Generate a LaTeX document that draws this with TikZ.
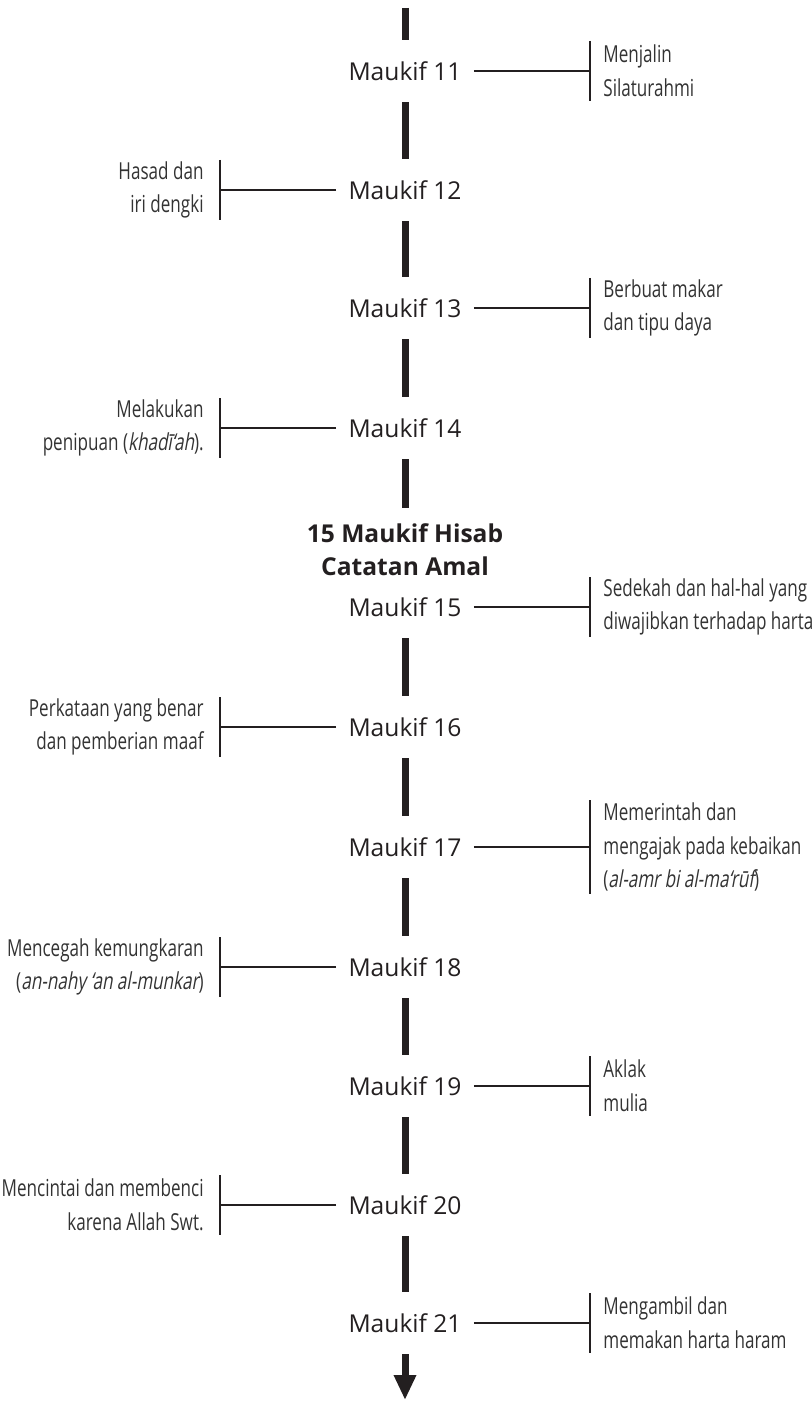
\documentclass[tikz,border=0pt]{standalone}
\usepackage{fontspec}
\setmainfont{Open Sans}
\newfontfamily\notefont{Open Sans}[FakeStretch=0.73]
\newfontfamily\noteitfont{Open Sans}[FakeStretch=0.73,FakeSlant=0.18]
\usetikzlibrary{arrows.meta}
\definecolor{ink}{HTML}{231F20}
\definecolor{notegray}{HTML}{333333}
\newcommand{\ist}[1]{{\noteitfont #1}}
\begin{document}
\begin{tikzpicture}[x=0.5pt,y=-0.5pt,line cap=butt,
	maukif/.style={font=\fontsize{12.3}{15}\selectfont, text=ink, inner xsep=6pt, inner ysep=0pt, minimum height=31pt},
	judul/.style={font=\fontsize{12.3}{16.5}\selectfont\bfseries, text=ink, align=center, inner ysep=8pt},
	catatan/.style={font=\notefont\fontsize{11.7}{16.8}\selectfont, text=notegray, inner ysep=0pt},
	batang/.style={draw=ink, line width=3.5pt},
	garis/.style={draw=ink, line width=1.1pt},
	sekat/.style={draw=ink, line width=1.3pt}]
	\useasboundingbox (0,0) rectangle (811,1401);
	% the stations on the main line
	\foreach \n/\y in {11/71,12/190,13/308,14/428,15/607,16/727,17/847,18/967,19/1086,20/1205,21/1323}
		\node[maukif] (m\n) at (405,\y) {Maukif \n};
	\node[judul] (judul) at (405,550) {15 Maukif Hisab\\Catatan Amal};
	\coordinate (atas) at (405,8);
	\coordinate (bawah) at (405,1400);
	% main line
	\draw[batang] (atas) -- (m11.north);
	\foreach \a/\b in {11/12,12/13,13/14,15/16,16/17,17/18,18/19,19/20,20/21}
		\draw[batang] (m\a.south) -- (m\b.north);
	\draw[batang] (m14.south) -- (judul.north);
	\draw[batang,-{Triangle[length=12.5pt,width=10.5pt]}] (m21.south) -- (bawah);
	% branches to the right
	\foreach \n/\y/\h in {11/71/15,13/308/15,15/607/15,17/847/23.5,19/1086/15,21/1323/15} {
		\coordinate (t\n) at (590,\y);
		\draw[garis] (m\n.east) -- (t\n);
		\draw[sekat] ([yshift=\h pt]t\n) -- ([yshift=-\h pt]t\n);
	}
	% branches to the left
	\foreach \n/\y in {12/190,14/428,16/727,18/967,20/1205} {
		\coordinate (t\n) at (220,\y);
		\draw[garis] (m\n.west) -- (t\n);
		\draw[sekat] ([yshift=15pt]t\n) -- ([yshift=-15pt]t\n);
	}
	% notes
	\node[catatan, anchor=west, align=left, inner xsep=6.5pt] (c11) at (t11) {Menjalin\\Silaturahmi};
	\node[catatan, anchor=west, align=left, inner xsep=6.5pt] (c13) at (t13) {Berbuat makar\\dan tipu daya};
	\node[catatan, anchor=west, align=left, inner xsep=6.5pt] (c15) at (t15) {Sedekah dan hal-hal yang\\diwajibkan terhadap harta};
	\node[catatan, anchor=west, align=left, inner xsep=6.5pt] (c17) at (t17) {Memerintah dan\\mengajak pada kebaikan\\(\ist{al-amr bi al-ma‘rūf})};
	\node[catatan, anchor=west, align=left, inner xsep=6.5pt] (c19) at (t19) {Aklak\\mulia};
	\node[catatan, anchor=west, align=left, inner xsep=6.5pt] (c21) at (t21) {Mengambil dan\\memakan harta haram};
	\node[catatan, anchor=east, align=right, inner xsep=8pt] (c12) at (t12) {Hasad dan\\iri dengki};
	\node[catatan, anchor=east, align=right, inner xsep=8pt] (c14) at (t14) {Melakukan\\penipuan (\ist{khadī‘ah}).};
	\node[catatan, anchor=east, align=right, inner xsep=8pt] (c16) at (t16) {Perkataan yang benar\\dan pemberian maaf};
	\node[catatan, anchor=east, align=right, inner xsep=8pt] (c18) at (t18) {Mencegah kemungkaran\\(\ist{an-nahy ‘an al-munkar})};
	\node[catatan, anchor=east, align=right, inner xsep=8pt] (c20) at (t20) {Mencintai dan membenci\\karena Allah Swt.};
\end{tikzpicture}
\end{document}
